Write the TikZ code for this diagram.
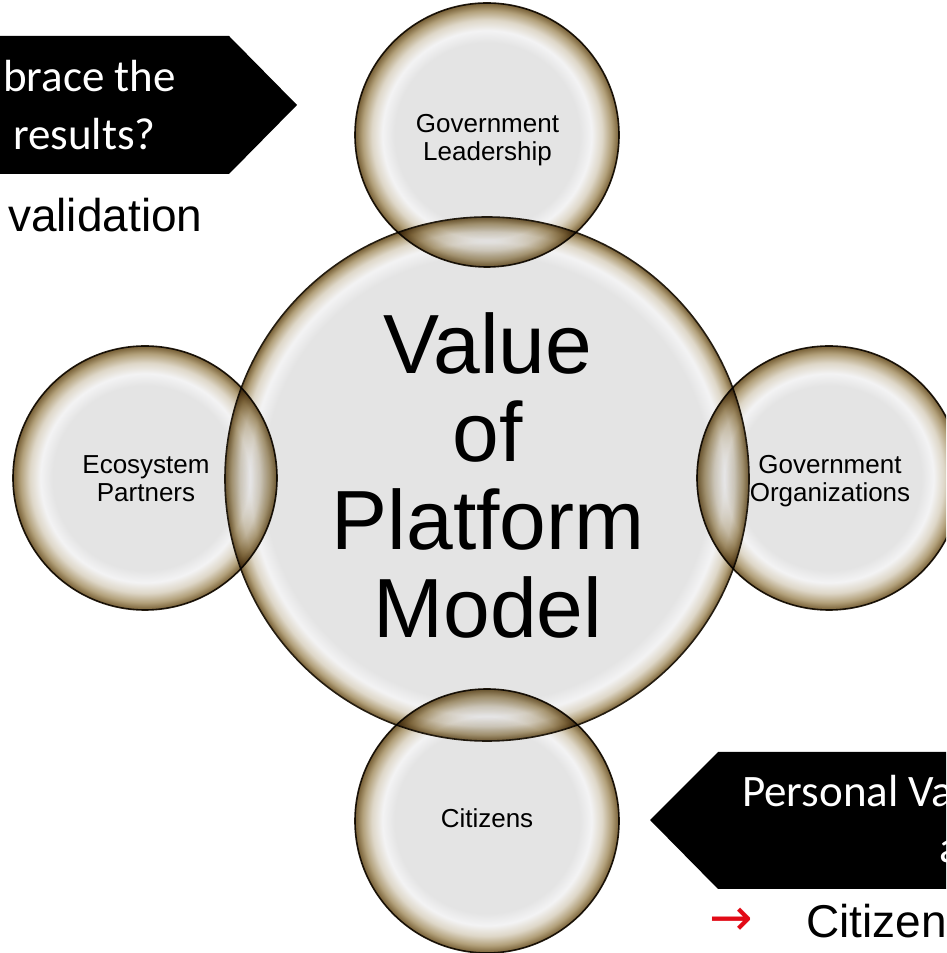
\documentclass[tikz,border=0pt]{standalone}
\usepackage{fontspec}
\setmainfont{Liberation Sans}
\newfontfamily\calibrifont{Carlito}
\newfontfamily\symfont{DejaVu Sans}
\definecolor{bcore}{RGB}{228,228,228}
\definecolor{bring}{RGB}{243,243,244}
\definecolor{btan}{RGB}{222,215,200}
\definecolor{bmid}{RGB}{178,160,122}
\definecolor{bedge}{RGB}{118,94,52}
\definecolor{boutline}{RGB}{36,28,16}
\definecolor{arrowred}{RGB}{226,10,22}
\pgfdeclareradialshading{satbubble}{\pgfpointorigin}{color(0bp)=(bcore); color(17.5bp)=(bcore); color(19.8bp)=(bring); color(21.8bp)=(btan); color(23.6bp)=(bmid); color(25bp)=(bedge); color(50bp)=(bedge)}
\pgfdeclareradialshading{bigbubble}{\pgfpointorigin}{color(0bp)=(bcore); color(21.3bp)=(bcore); color(22.6bp)=(bring); color(23.6bp)=(btan); color(24.4bp)=(bmid); color(25bp)=(bedge); color(50bp)=(bedge)}
\tikzset{
  sat/.style={circle, inner sep=0pt, minimum size=264pt, shading=satbubble, draw=boutline, line width=1.6pt},
  big/.style={circle, inner sep=0pt, minimum size=524pt, shading=bigbubble, draw=boutline, line width=1.6pt},
  smalllabel/.style={inner sep=0pt, align=center, font=\fontsize{26}{28}\selectfont},
  biglabel/.style={inner sep=0pt, align=center, font=\fontsize{84}{88}\selectfont},
  callout/.style={fill=black, draw=none},
  callouttext/.style={inner sep=0pt, text=white, font=\calibrifont\fontsize{45}{54}\selectfont},
  bodytext/.style={inner sep=0pt, text=black, font=\fontsize{46}{54}\selectfont},
}
\begin{document}
\begin{tikzpicture}[x=1pt,y=1pt]
\useasboundingbox (0,0) rectangle (946,953);
\clip (0,0) rectangle (946,953);
\fill[white] (0,0) rectangle (946,953);

% callouts
\fill[callout] (-5,917) -- (229,917) -- (297,848) -- (229,779) -- (-5,779) -- cycle;
\node[callouttext, anchor=base east] (q1) at (176,861) {brace the};
\node[callouttext, anchor=base east] (q2) at (156,803) {results?};
\node[bodytext, anchor=base west] (val) at (8,721) {validation};

\fill[callout] (952,201) -- (718,201) -- (650,133) -- (718,64) -- (952,64) -- cycle;
\node[callouttext, anchor=base west] (p1) at (742,146) {Personal Va};
\node[callouttext, anchor=base west] (p2) at (939,90) {a};
\node[inner sep=0pt, text=arrowred, font=\symfont\fontsize{52}{56}\selectfont] (arr) at (731,31) {→};
\node[bodytext, anchor=base west] (cit) at (806,15) {Citizen};

% circles
\node[big] (center) at (487,474) {};
\begin{scope}[blend mode=multiply]
\node[sat] (top) at (487,818) {};
\node[sat] (left) at (145,475) {};
\node[sat] (right) at (829,475) {};
\node[sat] (bottom) at (487,132) {};
\end{scope}

% labels
\node[biglabel] (ctext) at (488,478) {Value\\of\\Platform\\Model};
\node[smalllabel] (ttext) at (487.5,813) {Government\\Leadership};
\node[smalllabel] (ltext) at (146,474) {Ecosystem\\Partners};
\node[smalllabel] (rtext) at (830,471.5) {Government\\Organizations};
\node[smalllabel] (btext) at (487,134.3) {Citizens};
\end{tikzpicture}
\end{document}
